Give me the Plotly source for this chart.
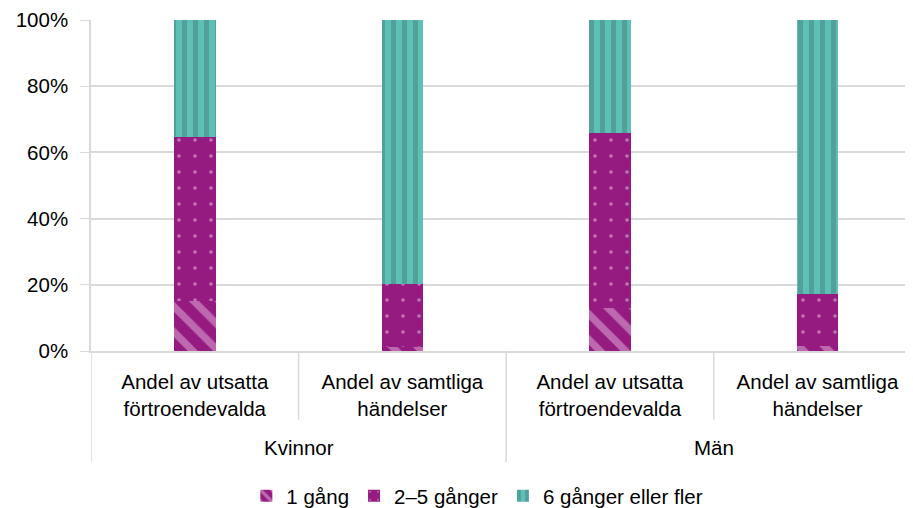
import plotly.graph_objects as go

categories = [
    "Andel av utsatta<br>förtroendevalda",
    "Andel av samtliga<br>händelser",
    "Andel av utsatta<br>förtroendevalda",
    "Andel av samtliga<br>händelser",
]
groups = ["Kvinnor", "Män"]
one_time = [15.0, 1.3, 13.0, 1.5]
two_five = [49.6, 18.8, 52.9, 15.6]
six_plus = [35.4, 79.9, 34.1, 82.9]

PURPLE = "#951b81"
PINK = "#e6b8e0"
DOT = "#f2cdee"
TEAL = "#5cc0b6"
TEAL_DARK = "#4a7f7e"
GRID = "#d9d9d9"
FONT = "Liberation Sans"
FS = 20.5

x = list(range(len(categories)))

fig = go.Figure()
fig.add_trace(go.Bar(
    x=x, y=one_time, name="1 gång", width=0.2,
    marker=dict(color=PURPLE, line=dict(width=0),
                pattern=dict(shape="\\", fgcolor=PINK, bgcolor=PURPLE,
                             size=18, solidity=0.4, fillmode="overlay")),
))
fig.add_trace(go.Bar(
    x=x, y=two_five, name="2–5 gånger", width=0.2,
    marker=dict(color=PURPLE, line=dict(width=0),
                pattern=dict(shape=".", fgcolor=DOT, bgcolor=PURPLE,
                             size=16, solidity=0.04, fillmode="overlay")),
))
fig.add_trace(go.Bar(
    x=x, y=six_plus, name="6 gånger eller fler", width=0.2,
    marker=dict(color=TEAL, line=dict(width=0),
                pattern=dict(shape="|", fgcolor=TEAL_DARK, bgcolor=TEAL,
                             size=11, solidity=0.45, fillmode="overlay")),
))

# category dividers below the axis
shapes = []
for xv, depth in [(-0.5, -0.335), (0.5, -0.208), (1.5, -0.335), (2.5, -0.208), (3.5, -0.335)]:
    shapes.append(dict(type="line", xref="x", yref="paper", x0=xv, x1=xv,
                       y0=0, y1=depth, line=dict(color=GRID, width=1.5)))

annotations = []
for i, g in enumerate(groups):
    annotations.append(dict(text=g, xref="x", yref="paper", x=2 * i + 0.5, y=-0.293,
                            yanchor="middle", showarrow=False,
                            font=dict(size=FS, color="#000")))

# page body has an 8px margin, so the figure is 8px smaller than the window
fig.update_layout(
    width=905, height=500,
    barmode="stack",
    plot_bgcolor="white", paper_bgcolor="white",
    font=dict(family=FONT, size=FS, color="#000"),
    margin=dict(l=83, r=0, t=12, b=157, autoexpand=False),
    shapes=shapes,
    annotations=annotations,
    showlegend=True,
    legend=dict(orientation="h", x=0.47, xanchor="center", y=-0.438, yanchor="middle",
                font=dict(size=FS), traceorder="normal", itemwidth=30),
    xaxis=dict(tickvals=x, ticktext=categories, range=[-0.5, 3.46],
               showgrid=False, showline=True, linecolor=GRID, linewidth=1.5,
               ticks="", ticklabelstandoff=12, automargin=False, fixedrange=True),
    yaxis=dict(range=[0, 100], tickvals=[0, 20, 40, 60, 80, 100],
               ticktext=["0%", "20%", "40%", "60%", "80%", "100%"],
               showgrid=True, gridcolor=GRID, gridwidth=1.5,
               showline=True, linecolor=GRID, linewidth=1.5, automargin=False,
               ticks="outside", ticklen=9, tickcolor=GRID, ticklabelstandoff=8,
               zeroline=False),
)

fig.write_html("out.html")
